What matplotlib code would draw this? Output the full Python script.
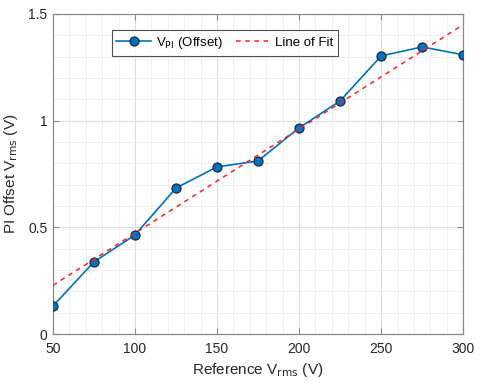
import matplotlib

matplotlib.use("Agg")

import matplotlib.pyplot as plt  # noqa: E402
import numpy as np  # noqa: E402
from matplotlib.ticker import MultipleLocator  # noqa: E402

plt.rcParams["font.family"] = ["Liberation Sans", "DejaVu Sans"]

# Measured data
reference_vrms = np.array([50, 75, 100, 125, 150, 175, 200, 225, 250, 275, 300])
pi_offset_vrms = np.array([0.131, 0.338, 0.464, 0.684, 0.783, 0.811,
                           0.966, 1.092, 1.303, 1.345, 1.308])

# Least-squares line through the measurements
slope, intercept = np.polyfit(reference_vrms, pi_offset_vrms, 1)
fit_vrms = slope * reference_vrms + intercept

fig = plt.figure(figsize=(4.81, 3.84), dpi=100)
ax = fig.add_axes([0.110, 0.130, 0.853, 0.834])

ax.plot(reference_vrms, pi_offset_vrms, "-o", color="#0072BD", lw=1.2,
        markersize=6.5, markerfacecolor="#0072BD", markeredgecolor="#1a2a40",
        markeredgewidth=0.9, label=r"V$_{\mathrm{PI}}$ (Offset)", zorder=3)
ax.plot(reference_vrms, fit_vrms, "--", color="#ff2020", lw=1.1,
        dashes=(3, 3), label="Line of Fit", zorder=4)

ax.set_xlim(50, 300)
ax.set_ylim(0, 1.5)
ax.xaxis.set_major_locator(MultipleLocator(50))
ax.xaxis.set_minor_locator(MultipleLocator(10))
ax.yaxis.set_minor_locator(MultipleLocator(0.1))
ax.set_yticks([0, 0.5, 1, 1.5])
ax.set_yticklabels(["0", "0.5", "1", "1.5"])

ax.grid(which="major", color="#dcdcdc", lw=0.8)
ax.grid(which="minor", color="#ececec", lw=0.6)
ax.set_axisbelow(True)

for spine in ax.spines.values():
    spine.set_color("#8a8a8a")
    spine.set_linewidth(0.9)
ax.tick_params(which="both", direction="in", colors="#8a8a8a",
               labelcolor="#262626", labelsize=10)
ax.tick_params(which="major", length=4)
ax.tick_params(which="minor", length=0)
ax.tick_params(axis="x", pad=6)
ax.tick_params(axis="y", pad=4)
ax.tick_params(top=True, right=True, which="major")

ax.set_xlabel(r"Reference V$_{\mathrm{rms}}$ (V)", fontsize=11, color="#262626",
              labelpad=3)
ax.set_ylabel(r"PI Offset V$_{\mathrm{rms}}$ (V)", fontsize=11, color="#262626",
              labelpad=6)

leg = ax.legend(loc="center", bbox_to_anchor=(0.468, 0.888),
                bbox_transform=fig.transFigure, ncol=2, fontsize=9.5,
                frameon=True, fancybox=False, edgecolor="#262626",
                handlelength=2.6, handletextpad=0.4, columnspacing=1.0,
                borderpad=0.35)
leg.get_frame().set_linewidth(0.8)

fig.savefig("out.png", dpi=100)
